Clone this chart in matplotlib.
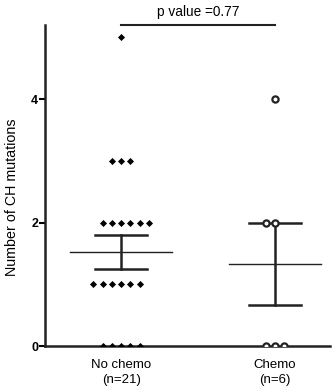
import matplotlib.pyplot as plt
import numpy as np

plt.rcParams['font.family'] = ['Liberation Sans', 'DejaVu Sans']

groups = ['No chemo\n(n=21)', 'Chemo\n(n=6)']
no_chemo = [5, 3, 3, 3, 2, 2, 2, 2, 2, 2, 1, 1, 1, 1, 1, 1, 0, 0, 0, 0, 0]
chemo = [4, 2, 2, 0, 0, 0]
p_text = 'p value =0.77'


def swarm(vals, pos, step, shift=None):
    # spread equal values side by side around the group position
    shift = shift or {}
    xs, ys = [], []
    for v in sorted(set(vals), reverse=True):
        n = vals.count(v)
        off = (np.arange(n) - (n - 1) / 2 + shift.get(v, 0)) * step
        xs += list(pos + off)
        ys += [v] * n
    return xs, ys


fig = plt.figure(figsize=(3.36, 3.92), dpi=100)
ax = fig.add_axes([0.134, 0.117, 0.848, 0.819])

for i, vals in enumerate([no_chemo, chemo]):
    arr = np.array(vals, dtype=float)
    m = arr.mean()
    sem = arr.std(ddof=1) / np.sqrt(len(arr))
    half = 0.33 if i == 0 else 0.3
    ax.plot([i - half, i + half], [m, m], color='#222222', lw=1.0, zorder=2)
    ax.plot([i, i], [m - sem, m + sem], color='#222222', lw=1.8, zorder=2)
    for y in (m - sem, m + sem):
        ax.plot([i - 0.17, i + 0.17], [y, y], color='#222222', lw=1.8, zorder=2)

x0, y0 = swarm(no_chemo, 0, 0.06, {2: 0.5, 1: -0.5})
ax.scatter(x0, y0, marker='D', s=13, color='black', zorder=3, linewidths=0)
x1, y1 = swarm(chemo, 1, 0.058, {2: -0.5})
ax.scatter(x1, y1, marker='o', s=20, facecolor='white', edgecolor='#222222',
           linewidths=1.6, zorder=3)

ax.set_xlim(-0.494, 1.357)
ax.set_ylim(0, 5.2)
ax.set_yticks([0, 2, 4])
ax.set_yticklabels(['0', '2', '4'], fontweight='bold', fontsize=9)
ax.set_xticks([0, 1])
ax.set_xticklabels(groups, fontsize=9.5, linespacing=1.4)
ax.tick_params(axis='x', length=0, pad=9)
ax.tick_params(axis='y', length=4, width=1.5, pad=1)
ax.set_ylabel('Number of CH mutations', fontsize=10.3, va='center')
ax.yaxis.set_label_coords(-0.116, 0.464)

for s in ['top', 'right']:
    ax.spines[s].set_visible(False)
for s in ['left', 'bottom']:
    ax.spines[s].set_linewidth(1.8)
    ax.spines[s].set_color('#222222')

ax.plot([0, 1], [5.2, 5.2], color='#222222', lw=1.5, clip_on=False)
ax.text(0.5, 5.42, p_text, ha='center', va='center', fontsize=9.8)

fig.savefig('out.png', dpi=100)
